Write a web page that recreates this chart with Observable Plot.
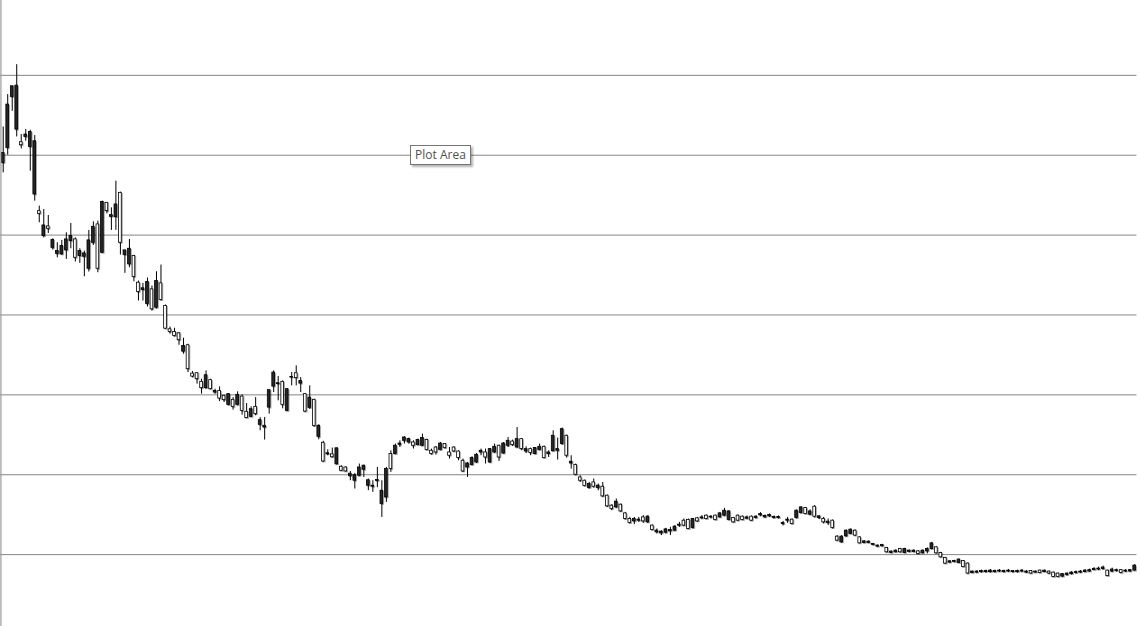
<!DOCTYPE html>
<html><head><meta charset="utf-8">
<script src="https://cdn.jsdelivr.net/npm/d3@7"></script>
<script src="https://cdn.jsdelivr.net/npm/@observablehq/plot@0.6"></script>
<style>
html,body{margin:0;padding:0;background:#fff;overflow:hidden;}
#wrap{position:relative;width:1140px;height:626px;overflow:hidden;}
#wrap svg{display:block;}
#tip{position:absolute;left:410px;top:145px;width:59px;height:18px;border:1px solid #767676;background:#fff;font:12px "Open Sans",sans-serif;color:#505050;line-height:18px;text-align:center;box-shadow:2px 2px 2px rgba(0,0,0,0.3);}
</style></head>
<body><div id="wrap"><div id="tip">Plot Area</div></div>
<script>
const open = [
60.29,66.34,68.63,68.71,61.25,62.59,62.91,61.75,52.66,51.21,
50.79,49.38,48.00,48.63,49.46,49.88,47.16,48.00,47.71,49.34,
51.04,45.79,54.16,53.00,52.50,53.84,49.04,48.09,48.29,44.75,
42.88,43.34,44.13,40.71,44.25,41.88,38.29,37.88,37.38,36.84,
36.13,33.21,32.29,31.96,30.84,32.46,30.71,30.50,29.54,29.34,
30.09,28.50,30.00,28.00,27.09,28.21,27.59,26.84,26.13,30.59,
32.79,31.46,28.75,30.71,32.25,32.09,31.75,27.91,29.66,26.09,
26.13,21.66,22.69,22.19,23.31,20.50,20.41,20.13,19.94,20.91,
21.13,19.31,18.63,19.34,18.00,20.71,20.71,23.63,23.91,24.66,
24.46,23.63,24.34,24.59,23.09,22.59,22.79,23.91,23.34,22.38,
22.91,22.09,20.41,21.41,22.09,22.50,23.00,22.16,23.21,23.50,
22.16,23.91,24.25,23.71,24.46,23.21,23.21,22.71,23.34,23.50,
22.09,22.79,24.88,23.21,25.71,22.38,21.63,20.00,19.25,18.59,
18.84,18.50,18.63,17.29,16.04,15.71,16.63,15.41,14.46,13.96,
14.46,14.38,14.16,14.75,13.09,13.00,12.88,13.16,13.09,13.50,
13.75,13.63,13.21,14.46,14.16,14.66,14.46,14.75,14.34,15.16,
15.50,15.41,14.04,14.25,14.34,14.66,14.25,14.75,15.09,14.84,
14.96,14.71,14.71,13.96,14.38,13.84,15.50,15.91,15.09,15.41,
14.75,14.79,14.04,14.13,13.34,11.75,12.25,13.00,13.13,12.38,
11.41,11.66,11.63,11.34,11.13,11.21,10.29,10.38,10.50,10.29,
10.71,10.50,10.50,10.09,10.50,10.71,11.41,10.16,9.66,8.88,
9.16,9.21,9.38,8.44,7.63,7.88,7.88,7.94,7.94,8.00,
7.94,8.00,7.94,8.00,7.94,7.94,8.00,7.88,7.63,7.88,
7.69,8.00,7.63,7.19,7.19,7.56,7.63,7.75,7.81,7.88,
8.00,8.06,8.19,8.25,8.38,7.31,8.13,8.06,7.69,8.00,
8.06,8.63];
const high = [
63.54,67.59,68.63,71.34,62.59,63.21,63.13,62.46,53.63,53.21,
52.46,49.54,49.04,49.34,50.29,51.46,49.66,48.29,48.00,50.59,
51.66,51.75,54.25,54.04,53.41,56.75,55.38,48.09,49.46,47.46,
44.25,43.96,44.63,43.63,45.41,46.25,41.25,38.50,38.34,37.79,
37.09,36.34,32.91,32.79,31.96,33.00,31.96,30.71,31.00,29.96,
30.16,29.66,30.38,30.00,28.91,28.50,29.66,27.16,27.16,30.59,
33.00,32.29,31.75,30.79,32.79,33.63,32.16,30.16,31.13,29.46,
26.25,24.19,23.13,23.34,23.34,21.13,21.00,20.41,20.16,21.34,
21.21,19.46,19.25,20.91,19.25,20.91,23.00,23.84,24.25,24.79,
24.59,24.25,24.46,25.09,24.46,23.21,23.54,24.04,23.91,23.41,
23.50,23.00,21.96,21.54,22.25,22.66,23.21,23.21,23.29,23.84,
23.71,24.04,24.66,24.34,25.91,24.54,23.50,23.34,23.41,23.84,
23.59,23.00,25.50,24.59,25.84,24.96,22.38,21.34,19.88,19.34,
19.04,19.46,18.84,19.04,17.46,16.25,16.96,16.34,15.29,14.66,
14.66,14.66,14.88,14.88,13.71,13.21,13.00,13.29,13.41,13.63,
14.04,14.46,14.46,14.54,14.66,14.88,14.96,14.88,14.96,15.29,
15.79,15.50,14.66,14.96,14.84,14.84,14.84,14.88,15.25,14.96,
15.09,14.84,14.84,14.16,14.66,14.46,15.59,16.00,15.91,15.59,
16.13,14.88,14.66,14.46,14.34,12.38,12.38,13.09,13.21,13.09,
12.25,11.75,11.71,11.41,11.21,11.29,10.91,10.46,10.59,10.79,
10.79,10.59,10.59,10.50,10.59,10.84,11.54,11.00,10.29,9.66,
9.25,9.29,9.46,9.25,8.96,7.94,8.00,8.06,8.06,8.13,
8.06,8.13,8.06,8.13,8.00,8.06,8.13,8.00,8.00,7.94,
8.06,8.06,7.94,7.81,7.69,7.63,7.69,7.88,7.94,8.00,
8.13,8.19,8.38,8.44,8.56,8.06,8.31,8.19,8.13,8.13,
8.13,8.75];
const low = [
57.79,60.00,65.50,62.29,60.79,61.75,58.00,54.25,51.54,49.66,
50.21,48.13,47.16,47.46,46.96,48.29,46.63,46.46,44.79,45.38,
48.71,45.29,47.71,52.66,50.59,50.59,47.50,45.21,45.91,44.16,
41.75,41.75,41.00,40.50,40.75,41.75,38.21,37.59,37.25,36.21,
35.09,32.79,32.13,31.34,30.09,30.71,30.63,30.09,29.16,29.04,
28.63,28.09,28.63,27.46,27.04,27.16,27.38,25.50,24.34,27.59,
30.29,29.25,28.25,27.91,31.13,31.13,30.29,27.79,28.19,25.96,
24.38,21.54,22.38,22.09,21.21,20.41,20.34,19.25,18.21,19.75,
19.66,18.00,17.79,18.38,14.66,16.54,20.29,22.50,23.41,23.84,
23.84,23.21,23.63,23.54,23.00,22.46,22.46,23.00,23.21,21.96,
22.79,21.75,20.29,19.66,21.13,21.41,22.38,21.34,21.41,22.66,
21.66,22.59,23.41,23.54,23.34,23.00,22.66,22.38,22.50,23.00,
22.00,22.16,22.88,21.84,23.71,22.09,20.71,19.88,19.04,18.50,
18.21,18.34,18.00,17.16,15.91,15.50,15.79,15.29,14.34,13.84,
13.75,14.04,13.91,13.91,13.00,12.59,12.38,12.59,12.38,12.88,
13.41,13.50,13.13,13.21,14.04,14.38,14.38,14.46,14.25,14.59,
14.75,14.25,13.96,14.16,14.25,14.38,14.16,14.46,14.75,14.54,
14.66,14.46,14.46,13.59,13.91,13.75,14.46,15.09,15.00,14.88,
14.59,14.38,13.84,13.63,13.21,11.66,11.41,12.16,12.50,12.29,
11.34,11.38,11.38,11.13,10.91,10.96,10.21,10.13,10.21,10.21,
10.13,10.25,10.25,10.00,10.09,10.09,10.59,10.09,9.59,8.79,
8.91,9.00,8.88,8.38,7.54,7.63,7.63,7.69,7.69,7.69,
7.69,7.75,7.69,7.75,7.69,7.69,7.75,7.63,7.56,7.69,
7.63,7.75,7.50,7.13,7.13,7.13,7.31,7.44,7.56,7.63,
7.75,7.81,8.00,8.00,8.06,7.25,7.75,7.81,7.63,7.75,
7.81,7.94];
const close = [
59.04,60.91,67.29,63.21,61.63,62.29,61.04,55.09,53.00,49.88,
51.09,48.41,47.66,47.59,48.09,49.25,49.46,47.38,47.29,45.79,
49.04,51.34,47.79,54.04,52.29,52.25,55.29,47.50,46.34,47.38,
44.04,43.13,41.38,43.21,40.91,43.96,41.13,38.21,37.88,37.71,
35.41,36.21,32.66,32.71,31.63,30.84,31.84,30.29,30.50,29.88,
28.75,29.38,28.75,29.79,27.88,27.25,28.50,26.25,25.91,28.41,
31.04,31.34,31.63,28.00,32.16,32.71,31.41,30.09,28.38,29.38,
24.75,24.00,22.56,22.56,21.31,21.00,20.91,19.81,19.25,19.88,
20.63,18.63,18.50,19.21,16.34,17.16,22.59,22.59,23.75,24.25,
24.04,24.04,23.71,23.63,24.34,23.00,23.41,23.09,23.84,22.79,
23.41,22.91,21.75,20.91,21.21,21.54,22.79,22.79,21.54,22.79,
23.63,22.66,23.63,24.16,23.41,24.46,22.91,23.21,22.59,23.09,
23.50,22.59,22.94,23.00,23.84,24.88,21.41,21.21,19.66,19.25,
18.34,19.04,18.34,18.50,17.38,16.13,15.91,16.25,15.16,14.46,
14.16,14.25,14.66,14.04,13.63,12.79,12.66,12.75,12.91,13.00,
13.63,14.25,14.34,13.34,14.54,14.54,14.88,14.66,14.88,14.66,
14.88,14.34,14.59,14.88,14.75,14.50,14.75,14.59,14.91,14.66,
14.79,14.59,14.59,13.84,14.25,14.38,14.59,15.21,15.84,15.00,
16.00,14.59,14.46,13.96,14.25,12.25,11.54,12.29,12.59,13.00,
12.16,11.46,11.46,11.21,11.00,11.04,10.84,10.21,10.29,10.71,
10.21,10.34,10.34,10.41,10.16,10.41,10.71,10.91,10.21,9.59,
9.00,9.09,8.96,9.19,8.88,7.69,7.75,7.81,7.81,7.81,
7.81,7.88,7.81,7.88,7.81,7.81,7.88,7.75,7.94,7.75,
8.00,7.81,7.88,7.75,7.63,7.25,7.44,7.56,7.69,7.75,
7.81,7.88,8.06,8.13,8.19,8.00,7.88,7.94,8.06,7.88,
7.88,8.00];
const gridValues = [10, 20, 30, 40, 50, 60, 70];

const candles = open.map((o, i) => ({i, open: o, high: high[i], low: low[i], close: close[i]}));

const chart = Plot.plot({
  width: 1140,
  height: 640,
  marginLeft: 0.45,
  marginRight: 3.55,
  marginTop: 0,
  marginBottom: 6,
  x: {type: "band", domain: candles.map(d => d.i), paddingInner: 0.4, paddingOuter: 0.2, round: false, axis: null},
  y: {domain: [0, 79.37], axis: null},
  marks: [
    Plot.ruleY(gridValues, {stroke: "#868686", strokeWidth: 1}),
    Plot.ruleX(candles, {x: "i", y1: "low", y2: "high", stroke: "#000", strokeWidth: 1}),
    Plot.barY(candles, {x: "i", y1: "open", y2: "close",
      fill: d => d.close < d.open ? "#262626" : "#ffffff",
      stroke: "#000", strokeWidth: 0.8}),
    Plot.frame({anchor: "left", stroke: "#868686"})
  ]
});
d3.select(chart).selectAll('g[aria-label="bar"]').style("filter", "drop-shadow(1px 1px 0.6px rgba(0,0,0,0.35))");
document.getElementById("wrap").prepend(chart);
</script>
</body></html>
